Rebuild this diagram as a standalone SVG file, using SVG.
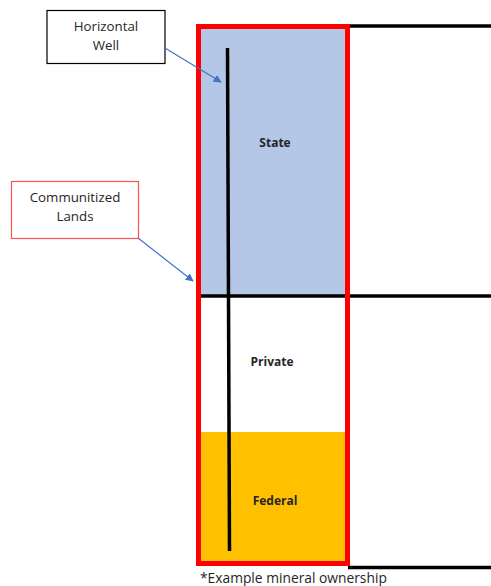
<svg xmlns="http://www.w3.org/2000/svg" width="491" height="586" viewBox="0 0 491 586">
<style>
.t{font-family:"Open Sans","Noto Sans","Liberation Sans",sans-serif;font-size:12px;fill:#262626;text-anchor:middle}
.l{font-size:13.3px}
.b{font-weight:bold}
.blk{stroke:#000;stroke-width:3.5;fill:none}
.arr{stroke:#4472C4;stroke-width:1.2;fill:none;marker-end:url(#ah)}
</style>
<defs>
<marker id="ah" viewBox="0 0 10 10" refX="9" refY="5" markerWidth="8" markerHeight="8" markerUnits="userSpaceOnUse" orient="auto">
<path d="M0,0 L10,5 L0,10 z" fill="#4472C4"/>
</marker>
</defs>
<rect width="491" height="586" fill="#fff"/>
<g id="state"><rect x="198" y="27" width="150" height="269" fill="#B4C7E7"/><text class="t b" x="275" y="147">State</text></g>
<g id="private"><text class="t b" x="272" y="366">Private</text></g>
<g id="federal"><rect x="198" y="432" width="150" height="132" fill="#FFC000"/><text class="t b" x="275" y="505">Federal</text></g>
<g id="lines">
<line class="blk" x1="348" y1="26" x2="491" y2="26"/>
<line class="blk" x1="200" y1="296" x2="491" y2="296"/>
<line class="blk" x1="348" y1="567.5" x2="491" y2="567.5"/>
</g>
<g id="well"><line x1="227.5" y1="48" x2="229.5" y2="551" stroke="#000" stroke-width="3.5"/></g>
<g id="communitized-boundary"><rect x="198.5" y="26.5" width="149" height="537" fill="none" stroke="#FF0000" stroke-width="5"/></g>
<g id="horizontal-well-label"><rect x="47" y="10.5" width="118" height="53" fill="#fff" stroke="#000" stroke-width="1.2"/><text class="t l" x="106" y="31">Horizontal</text><text class="t l" x="106" y="50">Well</text></g>
<g id="communitized-label"><rect x="11.5" y="181.5" width="127" height="57" fill="#fff" stroke="#FF5050" stroke-width="1.2"/><text class="t l" x="75" y="202">Communitized</text><text class="t l" x="75" y="221">Lands</text></g>
<g id="connectors">
<line class="arr" x1="165" y1="48" x2="221" y2="82"/>
<line class="arr" x1="138" y1="238" x2="193" y2="281"/>
</g>
<text class="t" x="200" y="583" style="text-anchor:start;font-size:13.8px">*Example mineral ownership</text>
</svg>
